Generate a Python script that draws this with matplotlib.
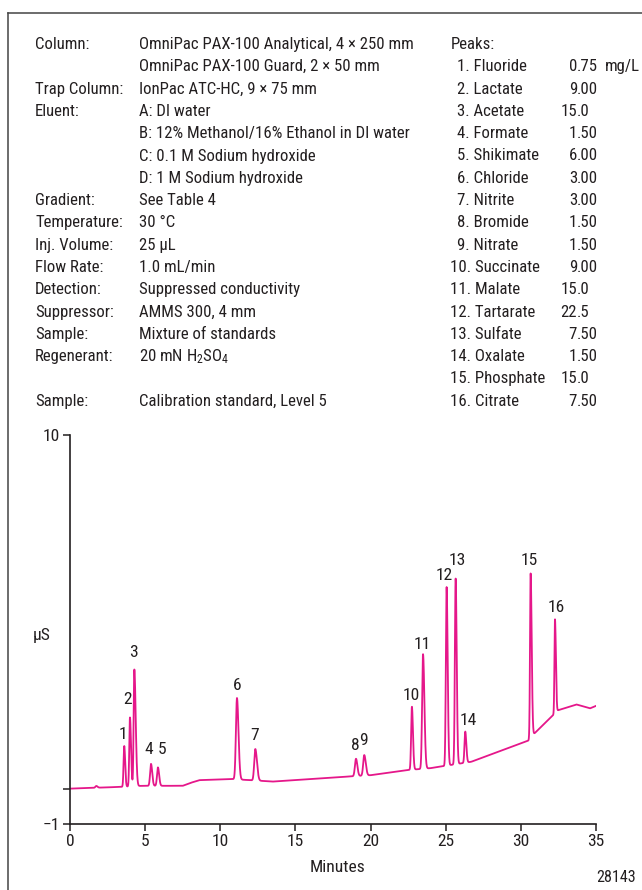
import matplotlib

matplotlib.use("Agg")
import matplotlib.pyplot as plt
import numpy as np
from matplotlib import font_manager
from matplotlib.lines import Line2D


def pick_font(candidates):
    for name in candidates:
        try:
            font_manager.findfont(name, fallback_to_default=False)
            return name
        except ValueError:
            pass
    return "Liberation Sans"


FONT = pick_font(["Liberation Sans Narrow", "Arial Narrow", "DejaVu Sans Condensed",
                  "Roboto Condensed", "Open Sans Condensed", "Liberation Sans"])
plt.rcParams["font.family"] = [FONT, "DejaVu Sans"]
plt.rcParams["mathtext.fontset"] = "custom"
plt.rcParams["mathtext.rm"] = FONT
plt.rcParams["mathtext.it"] = FONT

INK = "#231f20"
TRACE = "#e5178a"
W, H = 642, 890

# ---- conditions text ----
cond_labels = ["Column:", "", "Trap Column:", "Eluent:", "", "", "", "Gradient:",
               "Temperature:", "Inj. Volume:", "Flow Rate:", "Detection:",
               "Suppressor:", "Sample:", "Regenerant:", "", "Sample:"]
cond_values = ["OmniPac PAX-100 Analytical, 4 × 250 mm",
               "OmniPac PAX-100 Guard, 2 × 50 mm",
               "IonPac ATC-HC, 9 × 75 mm",
               "A: DI water",
               "B: 12% Methanol/16% Ethanol in DI water",
               "C: 0.1 M Sodium hydroxide",
               "D: 1 M Sodium hydroxide",
               "See Table 4",
               "30 °C",
               "25 µL",
               "1.0 mL/min",
               "Suppressed conductivity",
               "AMMS 300, 4 mm",
               "Mixture of standards",
               r"20 mN H$_2$SO$_4$",
               "",
               "Calibration standard, Level 5"]

# ---- peaks table ----
peak_names = ["Fluoride", "Lactate", "Acetate", "Formate", "Shikimate", "Chloride",
              "Nitrite", "Bromide", "Nitrate", "Succinate", "Malate", "Tartarate",
              "Sulfate", "Oxalate", "Phosphate", "Citrate"]
peak_amounts = ["0.75", "9.00", "15.0", "1.50", "6.00", "3.00", "3.00", "1.50",
                "1.50", "9.00", "15.0", "22.5", "7.50", "1.50", "15.0", "7.50"]

# ---- chromatogram (minutes, µS) ----
peak_rt = [1.75, 3.61, 3.99, 4.28, 5.39, 5.85, 11.11, 12.33, 19.03, 19.58,
           22.75, 23.49, 25.06, 25.66, 26.30, 30.65, 32.27]
peak_height = [0.05, 1.15, 1.95, 3.30, 0.62, 0.52, 2.30, 0.89, 0.49, 0.58,
               1.78, 3.24, 5.05, 5.25, 0.88, 4.65, 2.66]
peak_sig_left = [0.06, 0.045, 0.045, 0.045, 0.06, 0.06, 0.07, 0.07, 0.07, 0.07,
                 0.05, 0.06, 0.05, 0.05, 0.05, 0.04, 0.035]
peak_sig_right = [0.08, 0.06, 0.07, 0.09, 0.08, 0.08, 0.10, 0.11, 0.09, 0.10,
                  0.07, 0.09, 0.07, 0.07, 0.07, 0.07, 0.06]

base_t = [0.0, 3.4, 4.8, 7.5, 8.0, 8.6, 10.8, 13.5, 17.3, 20.0, 22.3, 24.0, 26.7,
          28.8, 30.5, 30.9, 32.15, 32.5, 33.7, 34.6, 35.0]
base_y = [0.0, 0.05, 0.08, 0.08, 0.16, 0.24, 0.27, 0.20, 0.31, 0.38, 0.52, 0.58, 0.76,
          1.09, 1.36, 1.56, 2.08, 2.22, 2.38, 2.27, 2.34]

label_text = [str(i) for i in range(1, 17)]
label_x = [3.50, 3.83, 4.19, 5.26, 6.12, 11.11, 12.29, 19.0, 19.53,
           22.69, 23.45, 24.91, 25.75, 26.48, 30.57, 32.34]
label_y = [1.32, 2.31, 3.64, 0.89, 0.89, 2.70, 1.29, 1.01, 1.15,
           2.42, 3.86, 5.81, 6.24, 1.71, 6.24, 4.91]

fig = plt.figure(figsize=(W / 100, H / 100), dpi=100)


def fx(x):
    return x / W


def fy(y):
    return 1 - y / H


# size the text so the longest column line spans about 273 px as in the reference
renderer = fig.canvas.get_renderer()
probe = fig.text(0, 0, cond_values[0], fontsize=10)
probe_w = probe.get_window_extent(renderer).width
probe.remove()
FS = min(12.5, 10 * 273 / probe_w)

# frame (left and top edges)
fig.add_artist(Line2D([fx(8), fx(8)], [fy(13), 0], color="#444444", lw=1.1))
fig.add_artist(Line2D([fx(8), 1], [fy(13), fy(13)], color="#444444", lw=1.1))

row0, step = 49.0, 22.3
for i, (lab, val) in enumerate(zip(cond_labels, cond_values)):
    y = fy(row0 + step * i)
    if lab:
        fig.text(fx(35), y, lab, fontsize=FS, color=INK, va="baseline")
    if val:
        fig.text(fx(139), y, val, fontsize=FS, color=INK, va="baseline")

fig.text(fx(451), fy(row0), "Peaks:", fontsize=FS, color=INK, va="baseline")
for i, (name, amt) in enumerate(zip(peak_names, peak_amounts)):
    n = i + 1
    y = fy(row0 + step * n)
    xs = 450 if n >= 10 else 457
    fig.text(fx(xs), y, f"{n}. {name}", fontsize=FS, color=INK, va="baseline")
    whole, frac = amt.split(".")
    fig.text(fx(577), y, whole, fontsize=FS, color=INK, va="baseline", ha="right")
    fig.text(fx(577), y, "." + frac, fontsize=FS, color=INK, va="baseline", ha="left")
    if n == 1:
        fig.text(fx(605), y, "mg/L", fontsize=FS, color=INK, va="baseline")

# ---- chart ----
ax = fig.add_axes([fx(70), fy(824), fx(596) - fx(70), fy(435) - fy(824)])
t = np.linspace(0, 35, 7001)
signal = np.interp(t, base_t, base_y)
for rt, h, sl, sr in zip(peak_rt, peak_height, peak_sig_left, peak_sig_right):
    sig = np.where(t < rt, sl, sr)
    signal = signal + h * np.exp(-0.5 * ((t - rt) / sig) ** 2)
ax.plot(t, signal, color=TRACE, lw=1.3, solid_joinstyle="round")

for txt, x, y in zip(label_text, label_x, label_y):
    ax.text(x, y, txt, fontsize=FS + 0.5, color=INK, ha="center", va="bottom")

ax.set_xlim(0, 35)
ax.set_ylim(-1, 10)
ax.set_xticks([0, 5, 10, 15, 20, 25, 30, 35])
ax.set_yticks([-1, 0, 10])
ax.set_yticklabels(["\u22121", "", "10"])
ax.tick_params(direction="out", length=5, width=1.1, colors=INK,
               labelsize=FS + 0.5, pad=2)
for side in ["top", "right"]:
    ax.spines[side].set_visible(False)
for side in ["left", "bottom"]:
    ax.spines[side].set_color(INK)
    ax.spines[side].set_linewidth(1.2)
ax.patch.set_alpha(0)

ax.text(-0.053, (4.34 + 1) / 11, "µS", transform=ax.transAxes, fontsize=FS + 0.5,
        color=INK, ha="center", va="center")
fig.text(fx(338), fy(868), "Minutes", fontsize=FS + 0.5, color=INK, ha="center", va="center")
fig.text(fx(636), fy(877), "28143", fontsize=FS - 0.5, color=INK, ha="right", va="center")

fig.savefig("out.png", dpi=100)
